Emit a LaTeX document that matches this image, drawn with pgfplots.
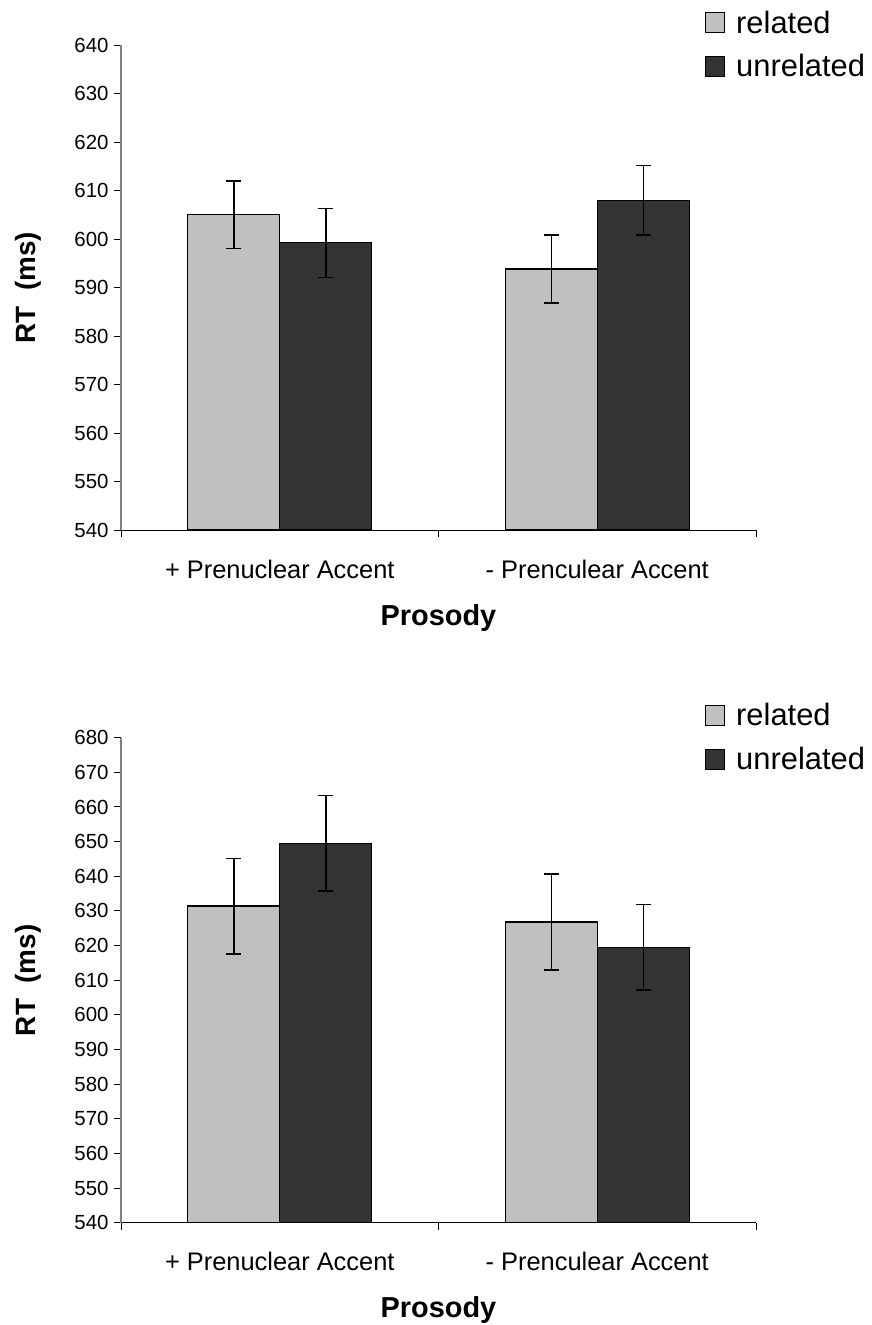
\documentclass[border=0pt]{standalone}
\usepackage{pgfplots}
\pgfplotsset{compat=1.18}
\usepackage{fontspec}
\setmainfont{Liberation Sans}
\definecolor{relc}{HTML}{C0C0C0}
\definecolor{unrc}{HTML}{333333}
\definecolor{axgray}{HTML}{808080}

\pgfplotsset{
 mychart/.style={
  width=635bp, height=485bp, scale only axis,
  xmin=-0.5, xmax=1.5,
  axis x line*=bottom, axis y line*=left,
  x axis line style={black, line width=1bp},
  y axis line style={axgray, line width=1.2bp},
  tick align=outside,
  major tick length=7bp,
  tick style={line width=1bp, black},
  xtick={-0.5,0.5,1.5}, xticklabels={,,},
  extra x ticks={0,1},
  extra x tick labels={+ Prenuclear Accent, - Prenculear Accent},
  extra x tick style={major tick length=0pt, tick label style={anchor=base, yshift=-48bp, font=\fontsize{25.5}{30}\selectfont}},
  ytick distance=10,
  yticklabel style={font=\fontsize{20.5}{24}\selectfont, xshift=-2bp},
  /pgf/number format/assume math mode=true,
  xlabel={Prosody}, ylabel={RT\ \ (ms)},
  xlabel style={at={(axis description cs:0.5,-0.196)}, anchor=base, font=\bfseries\fontsize{29}{34}\selectfont},
  ylabel style={at={(axis description cs:-0.146,0.5)}, anchor=center, font=\bfseries\fontsize{28}{33}\selectfont},
  ybar, bar width=92bp,
  legend cell align=left,
  legend style={draw=none, fill=none, inner sep=0pt, outer sep=0pt,
    at={(rel axis cs:0.9197,1.075)}, anchor=north west,
    font=\fontsize{31}{36}\selectfont, row sep=16bp,
    /tikz/every odd column/.append style={column sep=9bp}},
  legend image code/.code={\draw[##1, line width=1.2bp] (0bp,-10bp) rectangle (19bp,10bp);},
  error bars/y dir=both, error bars/y explicit,
  error bars/error mark=-,
  error bars/error bar style={line width=1.5bp, black},
  error bars/error mark options={rotate=90, line width=1.5bp, black, mark size=7.7bp},
 },
 relbar/.style={fill=relc, draw=black, line width=1.2bp, bar shift=-46bp},
 unrbar/.style={fill=unrc, draw=black, line width=1.2bp, bar shift=46bp},
}

\begin{document}
\begin{tikzpicture}
\useasboundingbox (0,0) rectangle (872bp,-1325bp);
\begin{axis}[mychart, at={(121bp,-530bp)}, anchor=south west, ymin=540, ymax=640]
\addplot[relbar] coordinates {(0,605.0) +- (0,7.0) (1,593.8) +- (0,7.0)};
\addplot[unrbar] coordinates {(0,599.2) +- (0,7.1) (1,608.0) +- (0,7.2)};
\legend{related, unrelated}
\end{axis}
\begin{axis}[mychart, at={(121bp,-1222.7bp)}, anchor=south west, ymin=540, ymax=680]
\addplot[relbar] coordinates {(0,631.4) +- (0,13.8) (1,626.8) +- (0,13.8)};
\addplot[unrbar] coordinates {(0,649.5) +- (0,13.8) (1,619.5) +- (0,12.3)};
\legend{related, unrelated}
\end{axis}
\end{tikzpicture}
\end{document}
